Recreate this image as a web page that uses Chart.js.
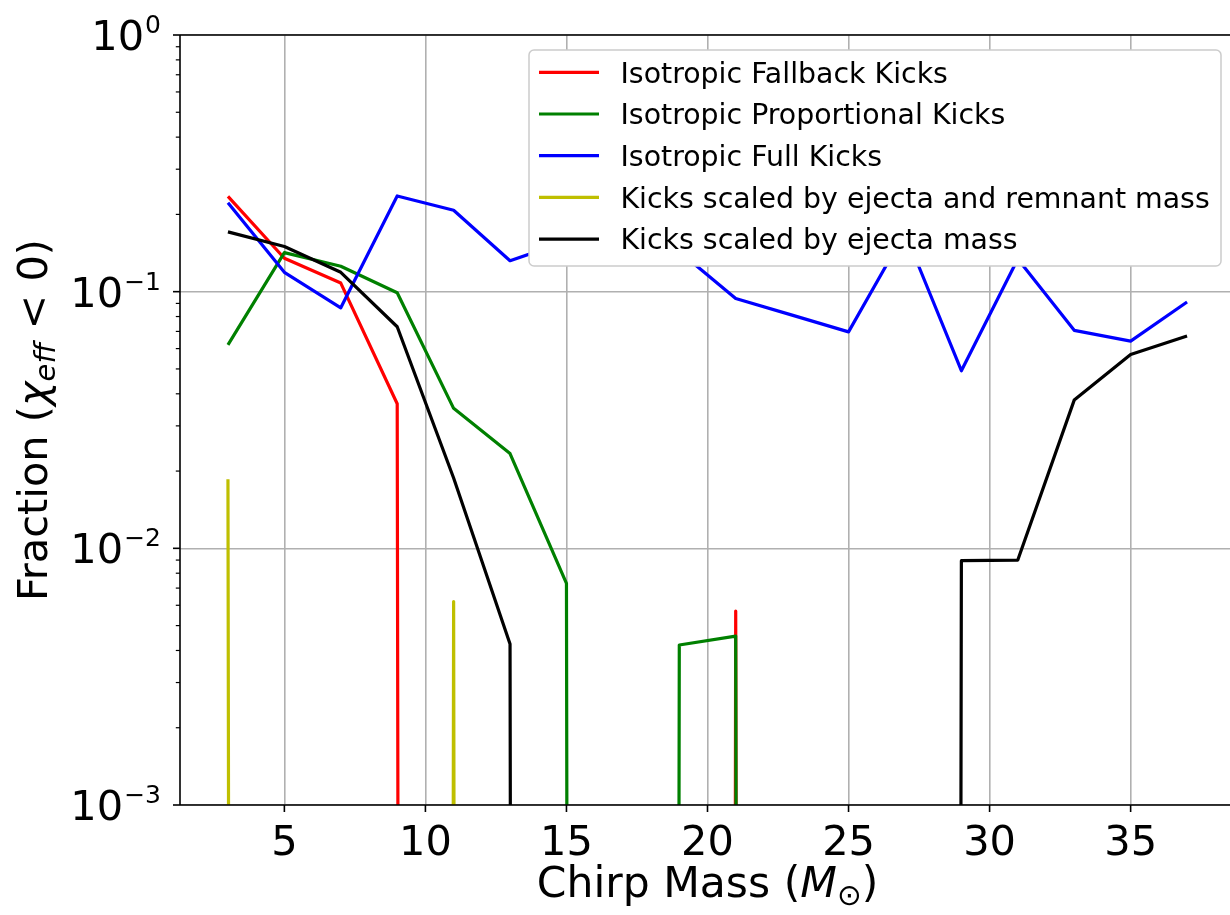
<!DOCTYPE html>
<html>
<head>
<meta charset="utf-8">
<script src="https://cdn.jsdelivr.net/npm/chart.js@4.4.1/dist/chart.umd.min.js"></script>
<style>
  html, body { margin: 0; padding: 0; background: #fff; overflow: hidden; }
  #wrap { width: 1240px; height: 915px; }
</style>
</head>
<body>
<div id="wrap"><canvas id="chart" width="1240" height="915"></canvas></div>
<script>
// chirp mass bins (M_sun) and the fraction of systems with chi_eff < 0 per bin
const chirpMass = [3, 5, 7, 9, 11, 13, 15, 17, 19, 21, 23, 25, 27, 29, 31, 33, 35, 37];
const fallbackKicks     = [0.235, 0.135, 0.108, 0.0366, 0, 0, 0, 0, 0, 0.0057, 0, 0, 0, 0, 0, 0, 0, 0];
const proportionalKicks = [0.062, 0.142, 0.1256, 0.099, 0.0351, 0.0234, 0.0073, 0, 0.0042, 0.00455, 0, 0, 0, 0, 0, 0, 0, 0];
const fullKicks         = [0.222, 0.119, 0.0865, 0.236, 0.2075, 0.132, 0.157, 0.15, 0.1435, 0.094, 0.081, 0.0697, 0.17, 0.0492, 0.134, 0.0707, 0.0642, 0.0911];
const ejectaRemnantKicks = [0.0186, 0, 0, 0, 0.0062, 0, 0, 0, 0, 0, 0, 0, 0, 0, 0, 0, 0, 0];
const ejectaKicks       = [0.171, 0.150, 0.119, 0.073, 0.0188, 0.00424, 0, 0, 0, 0, 0, 0, 0, 0.00895, 0.0090, 0.0378, 0.0569, 0.0672];

const seriesLabels = [
  "Isotropic Fallback Kicks",
  "Isotropic Proportional Kicks",
  "Isotropic Full Kicks",
  "Kicks scaled by ejecta and remnant mass",
  "Kicks scaled by ejecta mass",
];
const seriesValues = [fallbackKicks, proportionalKicks, fullKicks, ejectaRemnantKicks, ejectaKicks];
const seriesColors = ["#ff0000", "#008000", "#0000ff", "#bfbf00", "#000000"];

const xTicks = [5, 10, 15, 20, 25, 30, 35];
const yDecades = [-3, -2, -1, 0];
const yExponents = ["\u22123", "\u22122", "\u22121", "0"];

const FONT = "'DejaVu Sans', sans-serif";
// zeros can't sit on a log axis; push them far below so the line drops straight down (like matplotlib clipping)
const LOG_FLOOR = 1e-300;

function toPoints(vals) {
  return chirpMass.map((m, i) => ({ x: m, y: vals[i] > 0 ? vals[i] : LOG_FLOOR }));
}

function logTicks() {
  const ticks = [];
  for (let d = yDecades[0]; d < yDecades[yDecades.length - 1]; d++) {
    for (let k = 1; k <= 9; k++) ticks.push({ value: k * Math.pow(10, d), major: k === 1 });
  }
  ticks.push({ value: Math.pow(10, yDecades[yDecades.length - 1]), major: true });
  return ticks;
}

// draw a run of text pieces (normal / italic / sub) centred on x
function drawRich(ctx, parts, cx, baseline) {
  let total = 0;
  for (const p of parts) { ctx.font = p.font; total += ctx.measureText(p.text).width; }
  let x = cx - total / 2;
  ctx.textAlign = "left";
  ctx.textBaseline = "alphabetic";
  for (const p of parts) {
    ctx.font = p.font;
    ctx.fillText(p.text, x, baseline + (p.dy || 0));
    x += ctx.measureText(p.text).width;
  }
}

const axesDecor = {
  id: "axesDecor",
  afterDraw(chart) {
    const { ctx, chartArea: a, scales: { x, y } } = chart;
    ctx.save();
    ctx.strokeStyle = "#000";
    ctx.fillStyle = "#000";

    // spines
    ctx.lineWidth = 1.6;
    ctx.beginPath();
    ctx.moveTo(a.left, a.top); ctx.lineTo(a.right, a.top);
    ctx.moveTo(a.left, a.top); ctx.lineTo(a.left, a.bottom);
    ctx.moveTo(a.left, a.bottom); ctx.lineTo(a.right, a.bottom);
    ctx.moveTo(a.right, a.top); ctx.lineTo(a.right, a.bottom);
    ctx.stroke();

    // x ticks + labels
    ctx.font = "41.5px " + FONT;
    ctx.textAlign = "center";
    ctx.textBaseline = "alphabetic";
    for (const v of xTicks) {
      const px = x.getPixelForValue(v);
      ctx.beginPath();
      ctx.moveTo(px, a.bottom); ctx.lineTo(px, a.bottom + 7);
      ctx.stroke();
      ctx.fillText(String(v), px, a.bottom + 50);
    }

    // y ticks (major + minor)
    for (const t of y.ticks) {
      const py = y.getPixelForValue(t.value);
      ctx.lineWidth = t.major ? 1.6 : 1.2;
      ctx.beginPath();
      ctx.moveTo(a.left, py); ctx.lineTo(a.left - (t.major ? 7 : 4.2), py);
      ctx.stroke();
    }
    // y labels 10^n
    const labelRight = a.left - 19;
    yDecades.forEach((d, i) => {
      const py = y.getPixelForValue(Math.pow(10, d));
      ctx.textAlign = "left";
      ctx.font = "25px " + FONT;
      const ew = ctx.measureText(yExponents[i]).width;
      ctx.fillText(yExponents[i], labelRight - ew, py - 2);
      ctx.font = "41.5px " + FONT;
      ctx.textAlign = "right";
      ctx.fillText("10", labelRight - ew - 1, py + 15);
    });

    // axis titles
    const cx = (a.left + a.right) / 2;
    drawRich(ctx, [
      { text: "Chirp Mass (", font: "42.5px " + FONT },
      { text: "M", font: "italic 42.5px " + FONT },
      { text: "\u2299", font: "29.5px " + FONT, dy: 8 },
      { text: ")", font: "42.5px " + FONT },
    ], cx, 897);

    ctx.save();
    ctx.translate(47, (a.top + a.bottom) / 2);
    ctx.rotate(-Math.PI / 2);
    drawRich(ctx, [
      { text: "Fraction (", font: "41.5px " + FONT },
      { text: "\u03c7", font: "italic 41.5px " + FONT },
      { text: "eff", font: "italic 29px " + FONT, dy: 8 },
      { text: " < 0", font: "41.5px " + FONT },
      { text: ")", font: "41.5px " + FONT },
    ], 0, 0);
    ctx.restore();

    // legend box
    const lx = 529, ly = 50, lw = 692, lh = 216;
    ctx.beginPath();
    ctx.roundRect(lx, ly, lw, lh, 5);
    ctx.fillStyle = "#ffffff";
    ctx.fill();
    ctx.strokeStyle = "#cccccc";
    ctx.lineWidth = 1.5;
    ctx.stroke();

    ctx.font = "28.4px " + FONT;
    ctx.textAlign = "left";
    ctx.textBaseline = "alphabetic";
    seriesLabels.forEach((label, i) => {
      const ry = 72.3 + i * 41.7;
      ctx.strokeStyle = seriesColors[i];
      ctx.lineWidth = 3.2;
      ctx.beginPath();
      ctx.moveTo(539, ry); ctx.lineTo(599, ry);
      ctx.stroke();
      ctx.fillStyle = "#000";
      ctx.fillText(label, 620.5, ry + 10.3);
    });

    ctx.restore();
  },
};

new Chart(document.getElementById("chart"), {
  type: "line",
  data: {
    datasets: seriesLabels.map((label, i) => ({
      label,
      data: toPoints(seriesValues[i]),
      borderColor: seriesColors[i],
      backgroundColor: seriesColors[i],
      borderWidth: 3.2,
      borderJoinStyle: "round",
      pointRadius: 0,
      tension: 0,
      fill: false,
      clip: 0,
      order: seriesLabels.length - 1 - i,
    })),
  },
  options: {
    responsive: false,
    animation: false,
    events: [],
    layout: { padding: { left: 180, top: 35, right: 5, bottom: 110 } },
    plugins: { legend: { display: false }, tooltip: { enabled: false } },
    scales: {
      x: {
        type: "linear",
        min: 1.3,
        max: 38.7,
        afterBuildTicks: s => { s.ticks = xTicks.map(v => ({ value: v })); },
        afterFit: s => { s.height = 0; },
        ticks: { display: false },
        border: { display: false },
        grid: { color: "#b0b0b0", lineWidth: 1.6, drawTicks: false },
      },
      y: {
        type: "logarithmic",
        min: 1e-3,
        max: 1,
        afterBuildTicks: s => { s.ticks = logTicks(); },
        afterFit: s => { s.width = 0; },
        ticks: { display: false },
        border: { display: false },
        grid: {
          color: c => (c.tick && c.tick.major ? "#b0b0b0" : "rgba(0,0,0,0)"),
          lineWidth: 1.6,
          drawTicks: false,
        },
      },
    },
  },
  plugins: [axesDecor],
});
</script>
</body>
</html>
